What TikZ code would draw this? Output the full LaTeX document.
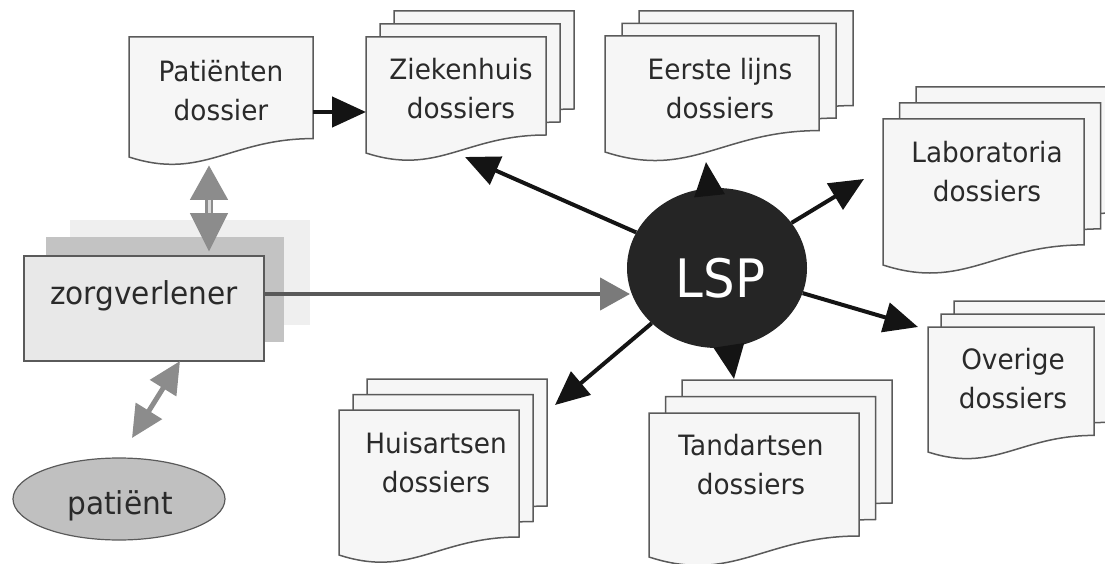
\documentclass[tikz,border=0pt]{standalone}
\usepackage{fontspec}
\setmainfont{DejaVu Sans}[FakeStretch=0.94]
\usetikzlibrary{arrows.meta,shapes.geometric}

\definecolor{docfill}{HTML}{F6F6F6}
\definecolor{docline}{HTML}{5A5A5A}
\definecolor{inkgray}{HTML}{2A2A2A}
\definecolor{zvfill}{HTML}{E8E8E8}
\definecolor{layermid}{HTML}{C3C3C3}
\definecolor{layerlight}{HTML}{EFEFEF}
\definecolor{patfill}{HTML}{C0C0C0}
\definecolor{lspfill}{HTML}{252525}
\definecolor{arrowblack}{HTML}{141414}
\definecolor{arrowgray}{HTML}{8C8C8C}
\definecolor{shaftlight}{HTML}{DADADA}
\definecolor{linkgray}{HTML}{595959}
\definecolor{linkhead}{HTML}{7A7A7A}

% one paper sheet with a wavy lower edge: left, top, width, height of the left side
\newcommand\docsheet[4]{%
  \filldraw[docpaper] ({#1},{#2}) -- ({#1+#3},{#2}) -- ({#1+#3},{#2+#4-0.1*#3})
    .. controls ({#1+0.55*#3},{#2+#4-0.1*#3}) and ({#1+0.4*#3},{#2+#4+0.13*#3}) .. ({#1},{#2+#4}) -- cycle;}
% a pile of three sheets: left, top, width, height, x step, y step
\newcommand\docstack[6]{%
  \docsheet{#1+2*#5}{#2-2*#6}{#3}{#4}%
  \docsheet{#1+#5}{#2-#6}{#3}{#4}%
  \docsheet{#1}{#2}{#3}{#4}}

\tikzset{
  docpaper/.style={fill=docfill, draw=docline, line width=1.5pt, line join=miter},
  doctext/.style={align=center, inner sep=0pt, text=inkgray,
    font=\fontsize{28}{38.5}\selectfont},
  bigtext/.style={inner sep=0pt, text=inkgray, anchor=base,
    font=\fontsize{31.5}{36}\selectfont},
  blackarrow/.style={draw=arrowblack, line width=4pt,
    -{Triangle[length=34pt,width=30pt]}},
  grayarrow/.style={draw=arrowgray, line width=5pt,
    {Triangle[length=32pt,width=30pt]}-{Triangle[length=32pt,width=30pt]}},
}

\begin{document}
\begin{tikzpicture}[x=1pt,y=-1pt]
\useasboundingbox (0,0) rectangle (1105,564);
\clip (0,0) rectangle (1105,564);

% record piles
\docsheet{129}{37}{184}{120}
\docstack{366}{37}{180}{116}{14}{13}
\docstack{605}{36}{214}{116}{17}{12.5}
\docstack{883}{119}{201}{146}{16.5}{16}
\docstack{928}{327}{166}{125}{13}{13}
\docstack{649}{413}{210}{144}{16.5}{16.5}
\docstack{339}{410}{180}{145}{14}{15.5}

\node[doctext] (pd-t)   at (221,90.4)   {Patiënten\\dossier};
\node[doctext] (zk-t)   at (461,88.4)   {Ziekenhuis\\dossiers};
\node[doctext] (el-t)   at (720,88.4)   {Eerste lijns\\dossiers};
\node[doctext] (lab-t)  at (987,171.4)  {Laboratoria\\dossiers};
\node[doctext] (ov-t)   at (1013,378.4) {Overige\\dossiers};
\node[doctext] (tand-t) at (751,464.4)  {Tandartsen\\dossiers};
\node[doctext] (huis-t) at (436,462.4)  {Huisartsen\\dossiers};

% care provider with its stacked shadows
\fill[layerlight] (70,220) rectangle (310,325);
\fill[layermid] (46,237) rectangle (284,342);
\node[draw=docline, fill=zvfill, line width=1.5pt, minimum width=240pt,
  minimum height=105pt, anchor=north west, inner sep=0pt] (zv) at (23,255) {};
\node[bigtext] (zv-t) at (144,304) {zorgverlener};

% patient
\node[ellipse, draw=docline, fill=patfill, line width=1.2pt, minimum width=212pt,
  minimum height=82pt, inner sep=0pt] (pat) at (119,499) {};
\node[bigtext] (pat-t) at (120,514) {patiënt};

% central hub
\node[ellipse, fill=lspfill, minimum width=180pt, minimum height=160pt, inner sep=0pt]
  (LSP) at (717,268) {};
\node[anchor=base, inner sep=0pt, text=white, font=\fontsize{53}{60}\selectfont]
  (lsp-t) at (720.5,297) {LSP};

% connector ends
\coordinate (pd-e) at (313,112);
\coordinate (zk-w) at (366,112);
\coordinate (pd-s) at (209,165);
\coordinate (zv-n) at (209,252);
\coordinate (zv-e) at (263,294);
\coordinate (lsp-w) at (630,294);
\coordinate (zv-s) at (180,361);
\coordinate (pat-n) at (132,438);
\coordinate (zk-in) at (465,157);
\coordinate (el-in) at (706,162);
\coordinate (lab-in) at (864,179);
\coordinate (ov-in) at (918,327);
\coordinate (tand-in) at (734,379);
\coordinate (huis-in) at (555,405);

% links
\draw[blackarrow, line width=4.5pt] (pd-e) -- (zk-w);
\draw[draw=linkgray, line width=4.5pt,
  -{Triangle[length=30pt,width=32pt,color=linkhead]}] (zv-e) -- (lsp-w);

\draw[draw=arrowgray, line width=8pt,
  {Triangle[length=35pt,width=36pt]}-{Triangle[length=39pt,width=36pt]}] (pd-s) -- (zv-n);
\draw[draw=shaftlight, line width=3pt, shorten <=35pt, shorten >=39pt] (pd-s) -- (zv-n);

\draw[grayarrow] (zv-s) -- (pat-n);

\draw[blackarrow] (LSP) -- (zk-in);
\draw[blackarrow] (LSP) -- (el-in);
\draw[blackarrow] (LSP) -- (lab-in);
\draw[blackarrow] (LSP) -- (ov-in);
\draw[blackarrow] (LSP) -- (tand-in);
\draw[blackarrow] (LSP) -- (huis-in);
\end{tikzpicture}
\end{document}
